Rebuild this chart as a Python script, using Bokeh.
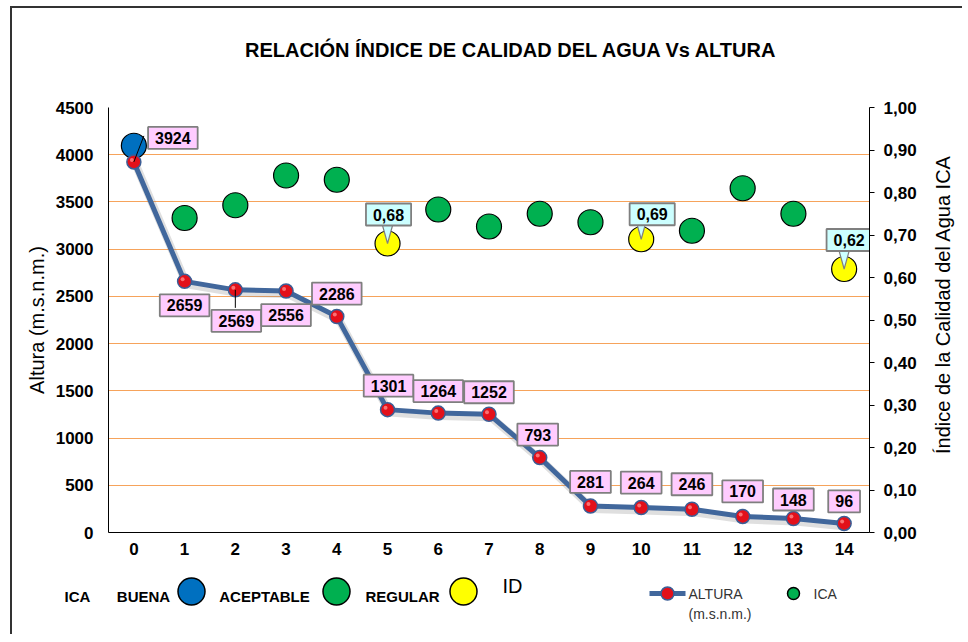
import math
from bokeh.plotting import figure
from bokeh.layouts import column, row
from bokeh.models import (Range1d, LinearAxis, FixedTicker, CustomJSTickFormatter,
                          ColumnDataSource)
from bokeh.core.properties import value
from bokeh.embed import file_html
from bokeh.resources import INLINE

# ---------------- data ----------------
ids = list(range(15))
altura = [3924, 2659, 2569, 2556, 2286, 1301, 1264, 1252, 793, 281, 264, 246, 170, 148, 96]
ica = [0.91, 0.74, 0.77, 0.84, 0.83, 0.68, 0.76, 0.72, 0.75, 0.73, 0.69, 0.71, 0.81, 0.75, 0.62]
alt_ticks = [0, 500, 1000, 1500, 2000, 2500, 3000, 3500, 4000, 4500]
ica_ticks = [0.0, 0.1, 0.2, 0.3, 0.4, 0.5, 0.6, 0.7, 0.8, 0.9, 1.0]
ica_classes = ["BUENA", "ACEPTABLE", "REGULAR"]
ica_colors = ["#0070C0", "#00B050", "#FFFF00"]
title_text = "RELACIÓN ÍNDICE DE CALIDAD DEL AGUA Vs ALTURA"
y_label = "Altura (m.s.n.m.)"
y2_label = "Índice de la Calidad del Agua ICA"

# ---------------- layout constants (page px) ----------------
FONT = "Liberation Sans"
OX, OY = 12, 8                      # canvas origin on page (after margin + border)
W = 950
HT = 70                              # title strip height
Y0 = OY + HT                         # top of main figure on page
Y1 = 565                             # bottom of main figure on page
H1 = Y1 - Y0
H2 = 69
RW = 34                              # strip holding the right axis title
WM = W - RW                          # main figure width
FL, FR, FT, FB = 108, 869, 107, 532  # plot frame on page
XMIN, XMAX = -0.5, 14.5
YMAX = 4500
ppx = (FR - FL) / (XMAX - XMIN)
ppy = (FB - FT) / YMAX
ppi = (FB - FT) / 1.0


def has_prop(model, name):
    return name in model.properties()


def strip(width, height, x0, y0):
    f = figure(width=width, height=height, x_range=Range1d(x0, x0 + width),
               y_range=Range1d(y0 + height, y0), output_backend="svg", toolbar_location=None,
               x_axis_type=None, y_axis_type=None, min_border_left=0, min_border_right=0,
               min_border_top=0, min_border_bottom=0, outline_line_color=None,
               background_fill_color="white", border_fill_color="white")
    f.grid.visible = False
    f.title.visible = False
    return f


# ---------------- title strip ----------------
tf = strip(W, HT, OX, OY)
tf.text(x=[511], y=[49], text=[title_text], text_align="center", text_baseline="middle",
        text_font=value(FONT), text_font_style="bold", text_font_size="20px",
        text_color="black")

# ---------------- main chart ----------------
p = figure(width=WM, height=H1, x_range=Range1d(XMIN, XMAX), y_range=Range1d(0, YMAX),
           output_backend="svg", toolbar_location=None,
           min_border_left=FL - OX, min_border_right=OX + WM - FR,
           min_border_top=FT - Y0, min_border_bottom=Y1 - FB,
           outline_line_color=None, background_fill_color="white", border_fill_color="white")
p.title.visible = False
p.extra_y_ranges = {"ica": Range1d(0, 1)}

# x axis
p.xaxis.ticker = FixedTicker(ticks=ids)
for ax in [p.xaxis, p.yaxis]:
    ax.major_tick_out = 0
    ax.major_tick_in = 0
    ax.minor_tick_out = 0
    ax.minor_tick_in = 0
    ax.axis_line_color = "black"
    ax.major_label_text_font = FONT
    ax.major_label_text_font_style = "bold"
    ax.major_label_text_font_size = "17px"
    ax.major_label_text_color = "black"
p.xaxis.major_label_standoff = 10

# left axis
p.yaxis.ticker = FixedTicker(ticks=alt_ticks)
p.yaxis.major_label_standoff = 15
p.yaxis.axis_label = y_label
p.yaxis.axis_label_text_font = FONT
p.yaxis.axis_label_text_font_style = "normal"
p.yaxis.axis_label_text_font_size = "20px"
p.yaxis.axis_label_text_color = "black"
p.yaxis.axis_label_standoff = 5

p.xgrid.visible = False
p.ygrid.ticker = FixedTicker(ticks=alt_ticks)
p.ygrid.grid_line_color = "#F6A35B"
p.ygrid.grid_line_width = 1

# right axis
rax = LinearAxis(y_range_name="ica", ticker=FixedTicker(ticks=ica_ticks),
                 formatter=CustomJSTickFormatter(code="return tick.toFixed(2).replace('.', ',');"))
rax.major_tick_out = 5
rax.major_tick_in = 0
rax.minor_tick_out = 0
rax.minor_tick_in = 0
rax.axis_line_color = "black"
rax.major_tick_line_color = "black"
rax.major_label_text_font = FONT
rax.major_label_text_font_style = "bold"
rax.major_label_text_font_size = "17px"
rax.major_label_text_color = "black"
rax.major_label_standoff = 9
p.add_layout(rax, "right")

# ICA circles
colors = [ica_colors[0] if v > 0.9 else (ica_colors[1] if v >= 0.7 else ica_colors[2]) for v in ica]
src_ica = ColumnDataSource(dict(x=ids, y=ica, c=colors))
p.scatter("x", "y", source=src_ica, y_range_name="ica", size=25, fill_color="c",
          line_color="black", line_width=1.2)

# altura line with soft shadow
p.line([x + 2 / ppx for x in ids], [a - 3 / ppy for a in altura], line_color="#7F7F7F",
       line_width=8, line_alpha=0.25)
p.line(ids, altura, line_color="#41679C", line_width=5)
p.scatter(ids, altura, size=14, fill_color="#E3101A", line_color="#3B5E96", line_width=1.5)
p.scatter([x - 2 / ppx for x in ids], [a + 2 / ppy for a in altura], size=4,
          fill_color="#FF8A8A", line_color=None, fill_alpha=0.8)

# leader lines
p.segment(x0=[ids[0], ids[2]], y0=[altura[0], altura[2]],
          x1=[ids[0] + 10 / ppx, ids[2]], y1=[altura[0] + 26 / ppy, altura[2] - 18 / ppy],
          line_color="black", line_width=1)


def boxed_text(fig, fill, **kw):
    style = dict(text_align="center", text_baseline="middle", text_font=value(FONT),
                 text_font_style="bold", text_font_size="16px", text_color="black",
                 background_fill_color=fill, border_line_color="#7F7F7F",
                 border_line_width=1.8)
    style.update(kw)
    try:
        return fig.text(padding=(7, 5), **style)
    except Exception:
        return fig.text(padding=5, **style)


# altura labels
alt_dx = [39, 0, 1, 0, 0, 1, 0, 0, -2, 0, 0, 0, 0, 0, 0]
alt_dy = [-24, 24, 31, 24, -23, -24, -22, -22, -23, -24, -25, -25, -25, -19, -22]
boxed_text(p, "#FFCCFF", x=ids, y=altura, text=[str(a) for a in altura],
           x_offset=alt_dx, y_offset=alt_dy)

# ICA labels (regular class)
reg_idx = [i for i, v in enumerate(ica) if v < 0.7]
reg_x = [ids[i] for i in reg_idx]
reg_v = [ica[i] for i in reg_idx]
lab_dx = [1, 11, 5]
lab_dy = [-29, -25, -29]
tri_xs = [[x - 5 / ppx, x + 5 / ppx, x] for x in reg_x]
tri_ys = [[v + 18 / ppi, v + 18 / ppi, v] for v in reg_v]
p.patches(tri_xs, tri_ys, y_range_name="ica", fill_color="#CCFFFF", line_color="#7F7F7F",
          line_width=1.2)
boxed_text(p, "#CCFFFF", x=reg_x, y=reg_v, y_range_name="ica",
           text=[f"{v:.2f}".replace(".", ",") for v in reg_v], x_offset=lab_dx, y_offset=lab_dy)

# ---------------- right axis title strip ----------------
rf = strip(RW, H1, OX + WM, Y0)
rf.text(x=[942], y=[304], text=[y2_label], angle=math.pi / 2, text_align="center",
        text_baseline="middle", text_font=value(FONT), text_font_size="20px",
        text_color="black")

# ---------------- legend strip ----------------
lg = strip(W, H2, OX, Y1)
for fig in (tf, p, rf, lg):
    if has_prop(fig, "frame_align"):
        fig.frame_align = False

lg.text(x=[77, 143, 264, 402], y=[596] * 4, text=["ICA"] + ica_classes, text_align="center",
        text_baseline="middle", text_font=value(FONT), text_font_style="bold",
        text_font_size="15px", text_color="black")
lg.scatter(x=[191, 336, 463], y=[591] * 3, size=27, fill_color=ica_colors, line_color="black",
           line_width=1.5)
lg.text(x=[512], y=[585], text=["ID"], text_align="center", text_baseline="middle",
        text_font=value(FONT), text_font_size="20px", text_color="black")

lg.line([649, 685], [593, 593], line_color="#41679C", line_width=5)
lg.scatter([667], [593], size=13, fill_color="#E3101A", line_color="#3B5E96", line_width=1.5)
lg.text(x=[688, 688], y=[593, 613], text=["ALTURA", "(m.s.n.m.)"], text_align="left",
        text_baseline="middle", text_font=value(FONT), text_font_size="14px",
        text_color="#333333")
lg.scatter([793], [593], size=12, fill_color=ica_colors[1], line_color="black", line_width=1.5)
lg.text(x=[813], y=[593], text=["ICA"], text_align="left", text_baseline="middle",
        text_font=value(FONT), text_font_size="14px", text_color="#333333")

layout = column(tf, row(p, rf, spacing=0), lg, spacing=0,
                styles={"margin-left": "10px", "margin-top": "6px",
                        "border-left": "2px solid #333333", "border-top": "2px solid #333333",
                        "box-sizing": "content-box"})
open("out.html", "w").write(file_html(layout, INLINE))
